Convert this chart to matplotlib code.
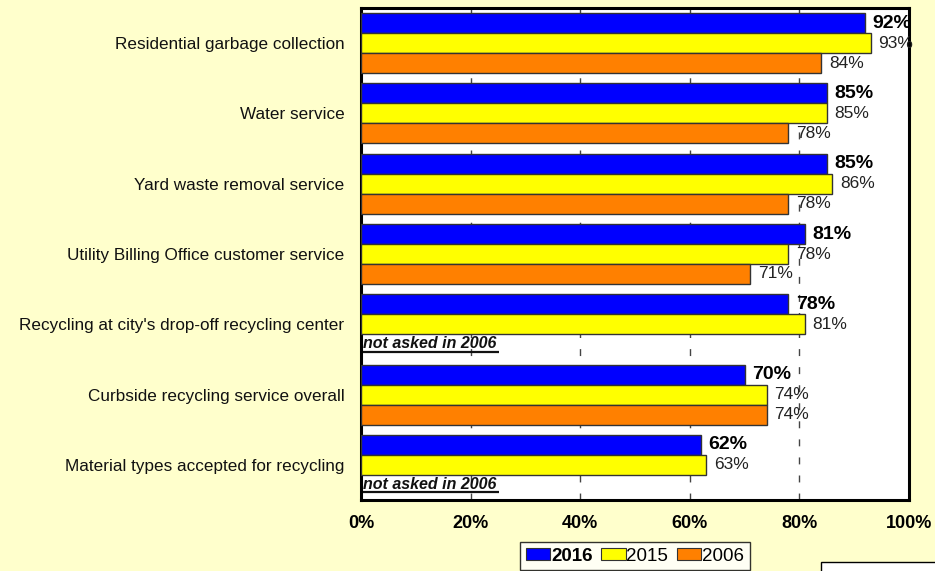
import numpy as np
import matplotlib
matplotlib.use("Agg")
import matplotlib.pyplot as plt
from matplotlib.patches import Rectangle, Patch

plt.rcParams['font.family'] = ['Liberation Sans', 'DejaVu Sans']

# ─── Satisfaction ratings by service ─────────────────────────────────────────
services = [
    "Residential garbage collection",
    "Water service",
    "Yard waste removal service",
    "Utility Billing Office customer service",
    "Recycling at city's drop-off recycling center",
    "Curbside recycling service overall",
    "Material types accepted for recycling",
]
y2016 = [92, 85, 85, 81, 78, 70, 62]
y2015 = [93, 85, 86, 78, 81, 74, 63]
y2006 = [84, 78, 78, 71, None, 74, None]
years = ["2016", "2015", "2006"]
xticks = [0, 20, 40, 60, 80, 100]

BG = '#FFFFCC'
colors = ['#0000FF', '#FFFF00', '#FF8000']

fig = plt.figure(figsize=(9.35, 5.71), dpi=100, facecolor=BG)
ax = fig.add_axes([361 / 935, 1 - 500 / 571, 548 / 935, 492 / 571])
ax.set_facecolor('white')

n = len(services)
bar_h = 20 / 70.3
series = [y2016, y2015, y2006]
for k, vals in enumerate(series):
    for i, v in enumerate(vals):
        y = i + (k - 1) * bar_h
        if v is None:
            ax.text(0.35, y - 0.01, "not asked in 2006", ha='left', va='center',
                    fontsize=11.5, fontweight='bold', fontstyle='italic',
                    color='#111111', zorder=4)
            # underline under the note
            ax.plot([0.4, 25.2], [y + 0.105, y + 0.105], color='#111111',
                    lw=1.6, zorder=4, solid_capstyle='butt')
            continue
        ax.barh(y, v, height=bar_h, color=colors[k], edgecolor='#333333',
                linewidth=1.0, zorder=3)
        ax.text(v + 1.4, y, f"{v}%", ha='left', va='center',
                fontsize=14 if k == 0 else 12.5,
                fontweight='bold' if k == 0 else 'normal',
                color='black' if k == 0 else '#222222', zorder=5)

ax.set_xlim(0, 100)
ax.set_ylim(n - 0.5, -0.5)
ax.set_yticks(range(n))
ax.set_yticklabels(services, fontsize=12.3, color='#111111')
ax.tick_params(axis='y', length=0, pad=12)
ax.set_xticks(xticks)
ax.set_xticklabels([f"{t}%" for t in xticks], fontsize=13, fontweight='bold')
ax.tick_params(axis='x', length=0, pad=11)

for x in xticks[1:-1]:
    ax.axvline(x, color='#444444', lw=1.0, ls=(0, (5, 8)), zorder=1)

for s in ax.spines.values():
    s.set_linewidth(2.2)
    s.set_color('black')

handles = [Patch(facecolor=c, edgecolor='#333333', lw=0.8) for c in colors]
leg = fig.legend(handles, years, loc='upper center',
                 bbox_to_anchor=(635 / 935, 1 - 542 / 571),
                 ncol=3, frameon=True, fancybox=False, fontsize=13.5,
                 handlelength=1.3, handleheight=0.6, handletextpad=0.05,
                 columnspacing=0.45, borderpad=0.3, borderaxespad=0,
                 edgecolor='black')
leg.get_frame().set_linewidth(1.0)
leg.get_texts()[0].set_fontweight('bold')

# partial box in the lower right corner
fig.patches.append(Rectangle((821 / 935, -0.1), 0.3, 0.1 + 9 / 571,
                             transform=fig.transFigure, facecolor='white',
                             edgecolor='black', lw=1.0))

fig.savefig("out.png", dpi=100, facecolor=BG)
